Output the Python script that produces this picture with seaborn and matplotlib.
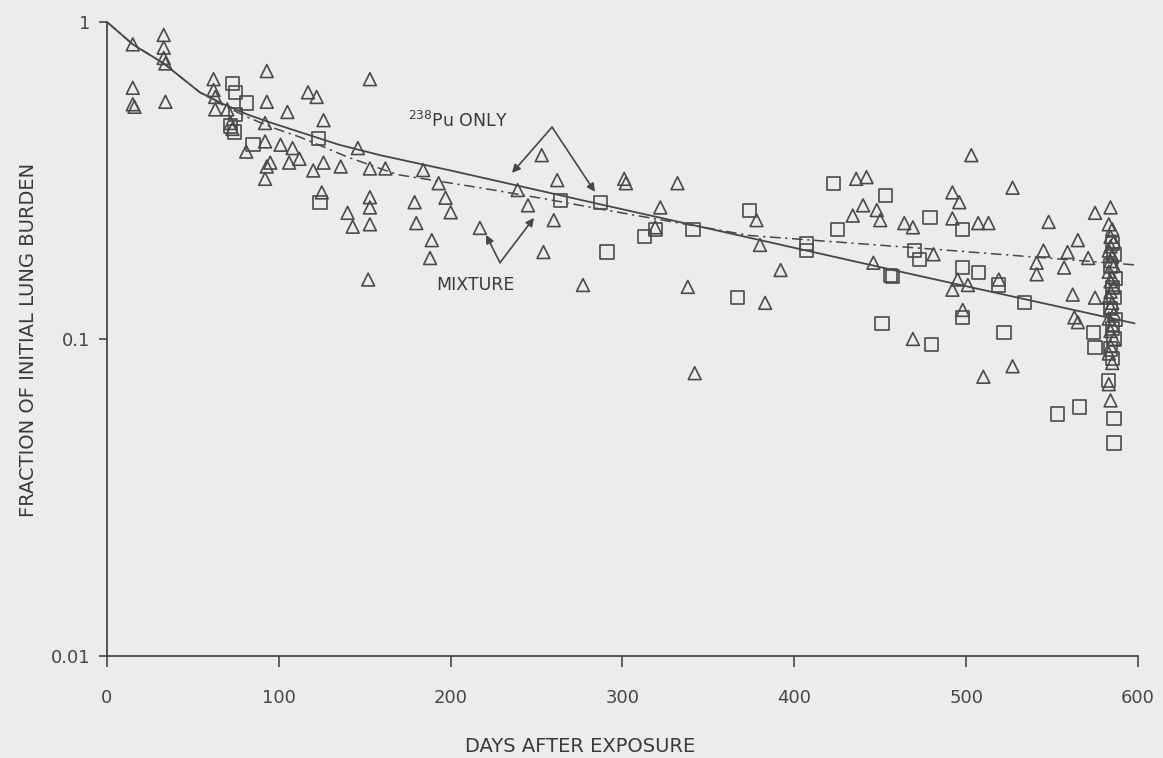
import matplotlib
matplotlib.use("Agg")
import matplotlib.pyplot as plt
from matplotlib.ticker import NullLocator
import seaborn as sns

# --- data ---
# triangles
tri_days = [15, 15, 15, 16, 33, 33, 33, 34, 34,
            62, 62, 63, 63, 70, 72, 73, 81, 92, 93, 93, 92, 93, 95, 92,
            101, 105, 106, 108, 112, 117, 122, 126, 120, 126, 125, 136,
            140, 143, 146, 153, 153, 153, 153, 153, 152, 162, 179, 180, 184,
            188, 189, 193, 197, 200, 217, 239, 245, 253, 254, 260, 262, 277,
            301, 302, 319, 322, 332, 338, 342, 378, 380, 383, 392,
            434, 436, 440, 442, 446, 448, 450, 464, 469, 469, 481,
            492, 492, 495, 492, 496, 498, 501, 503, 507, 510, 513, 519,
            527, 527, 541, 541, 545, 548, 557, 559, 562, 563, 565, 565,
            571, 575, 575, 584,
            583, 585, 584, 586, 584, 583, 585, 584, 586, 583, 585, 584,
            586, 584, 583, 585, 584, 586, 583, 585, 584, 586, 584, 583,
            585, 583, 584]
tri_vals = [0.85, 0.62, 0.55, 0.54, 0.91, 0.83, 0.77, 0.74, 0.56,
            0.66, 0.61, 0.58, 0.53, 0.53, 0.48, 0.46, 0.39, 0.48, 0.70, 0.56, 0.42, 0.35, 0.36, 0.32,
            0.41, 0.52, 0.36, 0.40, 0.37, 0.60, 0.58, 0.49, 0.34, 0.36, 0.29, 0.35,
            0.25, 0.226, 0.40, 0.66, 0.345, 0.28, 0.26, 0.23, 0.154, 0.345, 0.27, 0.232, 0.341,
            0.18, 0.205, 0.31, 0.279, 0.251, 0.224, 0.295, 0.264, 0.38, 0.188, 0.237, 0.317, 0.148,
            0.32, 0.31, 0.225, 0.26, 0.31, 0.146, 0.078, 0.237, 0.198, 0.13, 0.165,
            0.245, 0.32, 0.264, 0.324, 0.174, 0.255, 0.237, 0.232, 0.225, 0.10, 0.185,
            0.29, 0.24, 0.154, 0.143, 0.27, 0.1235, 0.148, 0.38, 0.232, 0.076, 0.232, 0.154,
            0.30, 0.082, 0.174, 0.16, 0.19, 0.234, 0.168, 0.188, 0.138, 0.117, 0.205, 0.113,
            0.18, 0.25, 0.135, 0.26,
            0.23, 0.222, 0.21, 0.203, 0.196, 0.19, 0.183, 0.176, 0.17, 0.163, 0.157, 0.152,
            0.146, 0.141, 0.135, 0.13, 0.126, 0.12, 0.116, 0.111, 0.106, 0.10, 0.095, 0.09,
            0.084, 0.072, 0.064]

# squares
sq_days = [73, 75, 75, 72, 74, 81, 85, 123, 124,
           264, 287, 291, 313, 319, 341, 367, 374, 407, 407, 423, 425,
           451, 453, 456, 457, 470, 473, 479, 480, 498, 498, 498, 507,
           519, 522, 534, 553, 566, 574, 575,
           585, 586, 584, 587, 585, 586, 584, 587, 585, 586, 584, 585, 583, 586, 586]
sq_vals = [0.64, 0.60, 0.51, 0.47, 0.45, 0.555, 0.41, 0.43, 0.27,
           0.274, 0.27, 0.188, 0.21, 0.222, 0.221, 0.135, 0.255, 0.20, 0.19, 0.31, 0.221,
           0.112, 0.284, 0.159, 0.157, 0.19, 0.178, 0.242, 0.096, 0.221, 0.168, 0.117, 0.162,
           0.148, 0.105, 0.13, 0.058, 0.061, 0.105, 0.094,
           0.20, 0.185, 0.17, 0.155, 0.145, 0.135, 0.125, 0.115, 0.108, 0.10, 0.093, 0.087,
           0.074, 0.056, 0.047]

# fitted curves
pu_days = [0, 15, 33, 54, 68, 82, 96, 112, 135, 159, 200, 287, 333, 473, 598]
pu_vals = [1.0, 0.85, 0.74, 0.60, 0.55, 0.51, 0.48, 0.45, 0.41, 0.38, 0.34, 0.266, 0.234, 0.158, 0.112]
mix_days = [0, 15, 33, 54, 68, 82, 96, 112, 140, 169, 217, 256, 294, 374, 481, 600]
mix_vals = [1.0, 0.85, 0.74, 0.60, 0.545, 0.50, 0.465, 0.434, 0.375, 0.33, 0.30, 0.276, 0.253, 0.212, 0.192, 0.171]

ink = "#474747"
bg = "#ececea"

sns.set_theme(style="ticks", rc={"axes.facecolor": bg, "figure.facecolor": bg,
                                 "axes.edgecolor": ink, "xtick.color": ink,
                                 "ytick.color": ink, "text.color": "#3a3a3a",
                                 "axes.labelcolor": "#3a3a3a"})
plt.rcParams["font.family"] = ["DejaVu Sans"]

fig = plt.figure(figsize=(11.63, 7.58), dpi=100)
ax = fig.add_axes([0.092, 0.1346, 0.8865, 0.8364])
ax.set_yscale("log")

sns.lineplot(x=pu_days, y=pu_vals, ax=ax, color=ink, lw=1.3, estimator=None, sort=False)
sns.lineplot(x=mix_days, y=mix_vals, ax=ax, color=ink, lw=1.1, estimator=None, sort=False,
             linestyle=(0, (7, 3, 1.5, 3)))

sns.scatterplot(x=tri_days, y=tri_vals, ax=ax, marker="^", s=85, facecolor="none",
                edgecolor="#4a4a4a", linewidth=1.2, clip_on=False, zorder=3)
sns.scatterplot(x=sq_days, y=sq_vals, ax=ax, marker="s", s=90, facecolor="none",
                edgecolor="#4a4a4a", linewidth=1.2, clip_on=False, zorder=3)

# labels with arrows
ax.text(175, 0.466, r"$\mathregular{^{238}}$Pu ONLY", fontsize=12.5, va="baseline")
arr = dict(arrowstyle="-|>", lw=1.2, color=ink, mutation_scale=12, shrinkA=0, shrinkB=0)
ax.annotate("", xy=(235.7, 0.334), xytext=(259, 0.466), arrowprops=arr)
ax.annotate("", xy=(284, 0.291), xytext=(259, 0.466), arrowprops=arr)
ax.text(214.5, 0.143, "MIXTURE", fontsize=12.5, ha="center", va="baseline")
ax.annotate("", xy=(220.6, 0.213), xytext=(228.7, 0.174), arrowprops=arr)
ax.annotate("", xy=(248.5, 0.241), xytext=(228.7, 0.174), arrowprops=arr)

ax.set_xlim(0, 600)
ax.set_ylim(0.01, 1)
ax.set_xticks(range(0, 601, 100))
ax.set_yticks([0.01, 0.1, 1])
ax.set_yticklabels(["0.01", "0.1", "1"])
ax.yaxis.set_minor_locator(NullLocator())
ax.tick_params(axis="x", direction="out", length=8, width=1.2, pad=16, labelsize=13)
ax.tick_params(axis="y", direction="out", length=6, width=1.2, pad=6, labelsize=13)
sns.despine(ax=ax)
for s in ["left", "bottom"]:
    ax.spines[s].set_linewidth(1.3)

ax.set_xlabel("DAYS AFTER EXPOSURE", fontsize=14)
ax.set_ylabel("FRACTION OF INITIAL LUNG BURDEN", fontsize=14)
ax.xaxis.set_label_coords(0.459, -0.128)
ax.yaxis.set_label_coords(-0.067, 0.498)

fig.savefig("out.png", dpi=100, facecolor=bg)
